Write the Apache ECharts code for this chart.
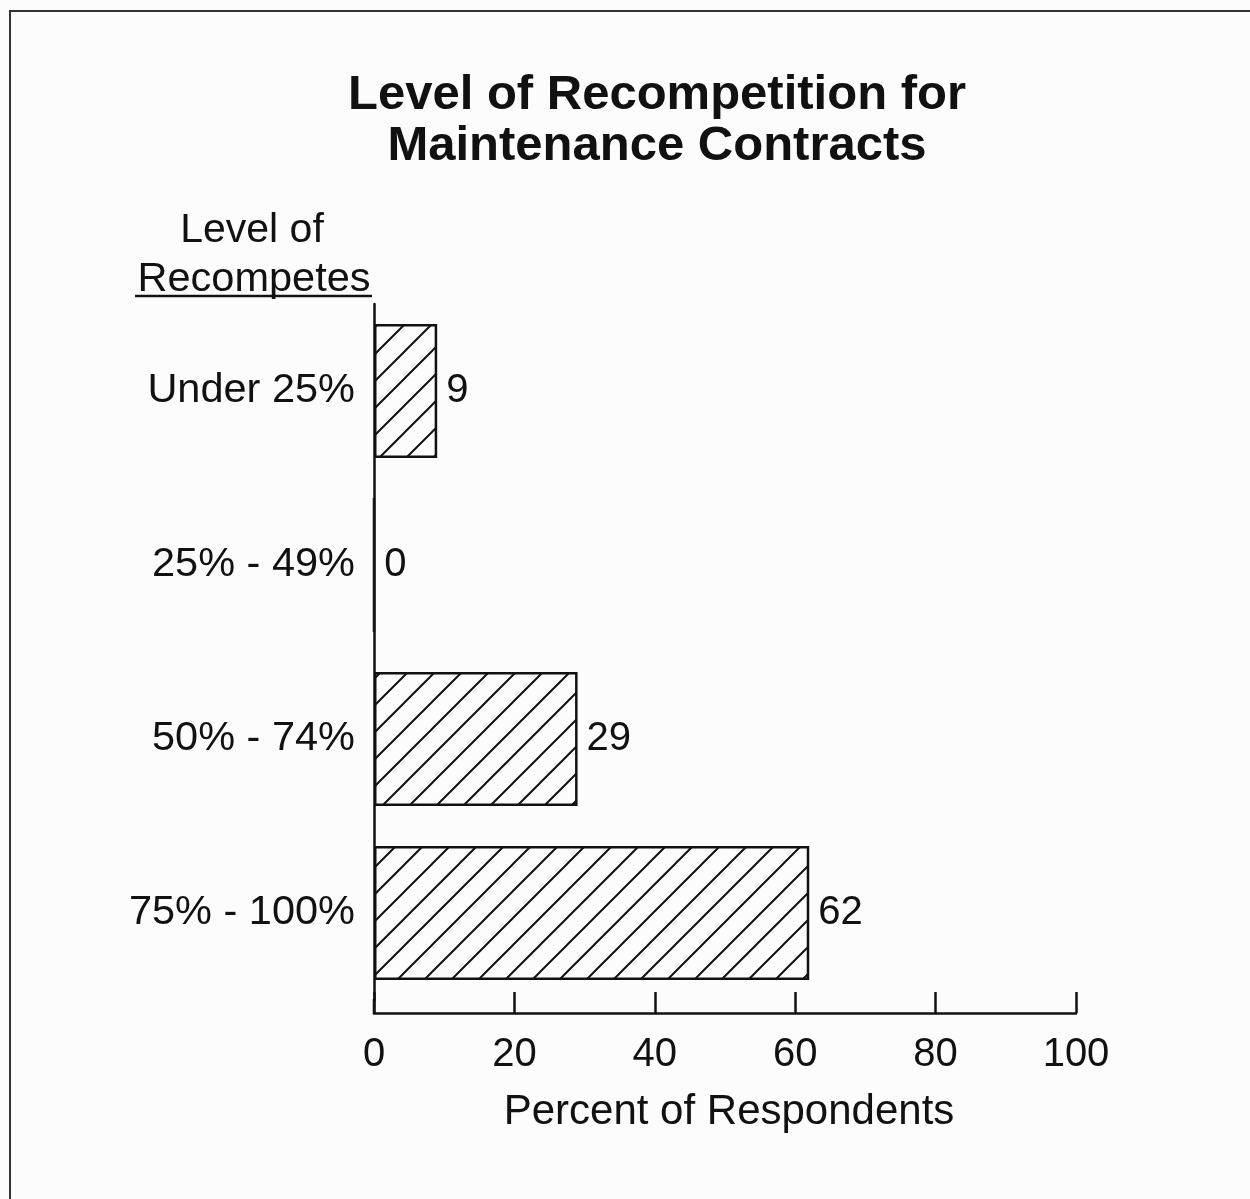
<!DOCTYPE html>
<html>
<head>
<meta charset="utf-8">
<script src="https://cdn.jsdelivr.net/npm/echarts@6/dist/echarts.min.js"></script>
<style>
  html, body { margin: 0; padding: 0; background: #fcfcfc; }
  #chart { width: 1250px; height: 1199px; }
</style>
</head>
<body>
<div id="chart"></div>
<script>
// data
const categories = ['Under 25%', '25% - 49%', '50% - 74%', '75% - 100%'];
const percents = [9, 0, 29, 62];
const xTicks = [0, 20, 40, 60, 80, 100];

const FONT = '"Liberation Sans", Arial, Helvetica, sans-serif';

// diagonal hatch used to fill the bars ("/" lines)
function hatch() {
  const t = 27;
  const c = document.createElement('canvas');
  c.width = t; c.height = t;
  const ctx = c.getContext('2d');
  ctx.fillStyle = '#fcfcfc';
  ctx.fillRect(0, 0, t, t);
  ctx.strokeStyle = '#111';
  ctx.lineWidth = 2;
  ctx.beginPath();
  ctx.moveTo(-2, t + 2); ctx.lineTo(t + 2, -2);
  ctx.moveTo(-3, 3); ctx.lineTo(3, -3);
  ctx.moveTo(t - 3, t + 3); ctx.lineTo(t + 3, t - 3);
  ctx.stroke();
  return c;
}

const myChart = echarts.init(document.getElementById('chart'));

myChart.setOption({
  backgroundColor: '#fcfcfc',
  animation: false,
  grid: {
    left: 374,
    right: 174,
    top: 304,
    bottom: 199,
    containLabel: false
  },
  xAxis: {
    type: 'value',
    min: 0,
    max: 100,
    interval: 20,
    offset: 13,
    name: 'Percent of Respondents',
    nameLocation: 'middle',
    nameGap: 78,
    nameTextStyle: { fontFamily: FONT, fontSize: 42, color: '#111', padding: [0, 0, 0, 8] },
    axisLine: { show: true, lineStyle: { color: '#111', width: 2.5 } },
    axisTick: { show: true, inside: true, length: 21, lineStyle: { color: '#111', width: 2.5 } },
    axisLabel: {
      margin: 22,
      fontFamily: FONT,
      fontSize: 40,
      color: '#111',
      formatter: v => (xTicks.indexOf(v) >= 0 ? String(v) : '')
    },
    splitLine: { show: false }
  },
  yAxis: {
    type: 'category',
    inverse: true,
    data: categories,
    axisLine: { show: true, lineStyle: { color: '#111', width: 2.5 } },
    axisTick: { show: false },
    axisLabel: {
      margin: 19,
      fontFamily: FONT,
      fontSize: 41.5,
      color: '#111'
    }
  },
  series: [{
    type: 'bar',
    data: percents,
    barCategoryGap: '23%',
    itemStyle: {
      color: { image: hatch(), repeat: 'repeat' },
      borderColor: '#111',
      borderWidth: 2.5
    },
    label: {
      show: true,
      position: 'right',
      distance: 9,
      fontFamily: FONT,
      fontSize: 40,
      color: '#111'
    }
  }],
  graphic: [
    {
      type: 'rect',
      shape: { x: 10, y: 11, width: 1400, height: 1400 },
      style: { fill: 'none', stroke: '#333', lineWidth: 2 },
      silent: true
    },
    {
      type: 'text',
      style: {
        text: 'Level of Recompetition for\nMaintenance Contracts',
        x: 657, y: 70, align: 'center', verticalAlign: 'top',
        fontFamily: FONT, fontSize: 49, fontWeight: 'bold', lineHeight: 51, fill: '#111'
      }
    },
    {
      type: 'text',
      style: {
        text: 'Level of', x: 252, y: 231, align: 'center', verticalAlign: 'middle',
        fontFamily: FONT, fontSize: 41, fill: '#111'
      }
    },
    {
      type: 'text',
      style: {
        text: 'Recompetes', x: 254, y: 280, align: 'center', verticalAlign: 'middle',
        fontFamily: FONT, fontSize: 41.5, fill: '#111'
      }
    },
    {
      type: 'line',
      shape: { x1: 135, y1: 296, x2: 372, y2: 296 },
      style: { stroke: '#111', lineWidth: 2.5 }
    }
  ]
});

// close the gap between the y axis and the offset x axis
const x0 = myChart.convertToPixel({ xAxisIndex: 0 }, 0);
myChart.setOption({
  graphic: [{}, {}, {}, {}, {}, {
    type: 'line',
    shape: { x1: x0, y1: 999, x2: x0, y2: 1014 },
    style: { stroke: '#111', lineWidth: 2.5 }
  }]
});

window.onresize = function () {
  myChart.resize();
};
</script>
</body>
</html>
